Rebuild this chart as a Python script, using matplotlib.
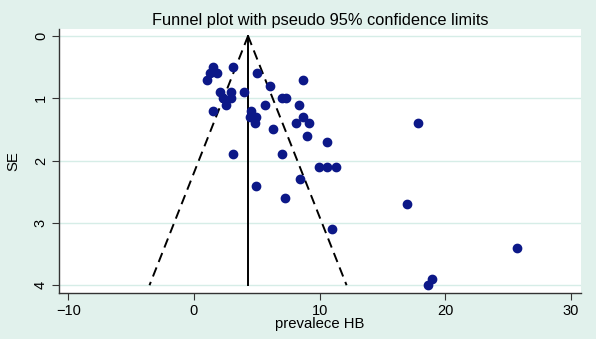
import numpy as np
import matplotlib
matplotlib.use("Agg")
import matplotlib.pyplot as plt

plt.rcParams['font.family'] = ['Liberation Sans', 'DejaVu Sans']

# --- dados ---
prevalencia = [1.49, 3.14, 1.27, 1.81, 5.01, 1.07, 8.70, 6.01, 2.08, 2.94,
               4.00, 2.27, 2.94, 7.00, 7.32, 2.53, 8.39, 5.67, 1.49, 4.51,
               4.48, 4.96, 8.70, 4.88, 8.13, 9.17, 6.27, 8.97, 10.58, 3.12,
               6.98, 9.97, 10.60, 11.30, 8.47, 4.93, 7.26, 17.80, 16.95, 11.0,
               25.67, 18.96, 18.59]
se = [0.50, 0.50, 0.60, 0.60, 0.60, 0.70, 0.70, 0.80, 0.90, 0.90,
      0.90, 1.00, 1.00, 1.00, 1.00, 1.10, 1.10, 1.10, 1.20, 1.20,
      1.30, 1.30, 1.30, 1.40, 1.40, 1.40, 1.50, 1.60, 1.70, 1.90,
      1.90, 2.10, 2.10, 2.10, 2.30, 2.40, 2.60, 1.40, 2.70, 3.10,
      3.40, 3.90, 4.00]
efeito_comb = 4.3
se_max = 4
xticks = [-10, 0, 10, 20, 30]
yticks = [0, 1, 2, 3, 4]

fundo = '#e1f1ec'
grade = '#d6ede7'
azul = '#0c1888'

fig = plt.figure(figsize=(5.96, 3.39), dpi=100)
fig.patch.set_facecolor(fundo)
ax = fig.add_axes([59 / 596, 1 - 293 / 339, 522 / 596, 264 / 339])
ax.set_facecolor('white')

# limites do funil
s = np.array([0, se_max])
ax.plot(efeito_comb - 1.96 * s, s, '--', color='black', lw=1.4, dashes=(5, 3))
ax.plot(efeito_comb + 1.96 * s, s, '--', color='black', lw=1.4, dashes=(5, 3))
ax.plot([efeito_comb, efeito_comb], s, '-', color='black', lw=1.4)

ax.plot(prevalencia, se, 'o', color=azul, markersize=6, mec=azul, zorder=3)

ax.set_xlim(-10.74, 30.79)
ax.set_ylim(4.125, -0.112)
ax.set_xticks(xticks)
ax.set_yticks(yticks)
ax.grid(axis='y', color=grade, lw=1)
ax.set_axisbelow(True)

for lado in ['top', 'right']:
    ax.spines[lado].set_visible(False)
for lado in ['left', 'bottom']:
    ax.spines[lado].set_color('#333333')
    ax.spines[lado].set_linewidth(1)
ax.tick_params(length=5, color='#333333', labelsize=10.5, pad=3)
plt.setp(ax.get_yticklabels(), rotation=90, va='center')

ax.set_xlabel('prevalece HB', fontsize=10.7, labelpad=-1)
ax.set_ylabel('SE', fontsize=10.7, labelpad=10)
ax.set_title('Funnel plot with pseudo 95% confidence limits', fontsize=11.8, pad=3)

fig.savefig('out.png', dpi=100, facecolor=fundo)
